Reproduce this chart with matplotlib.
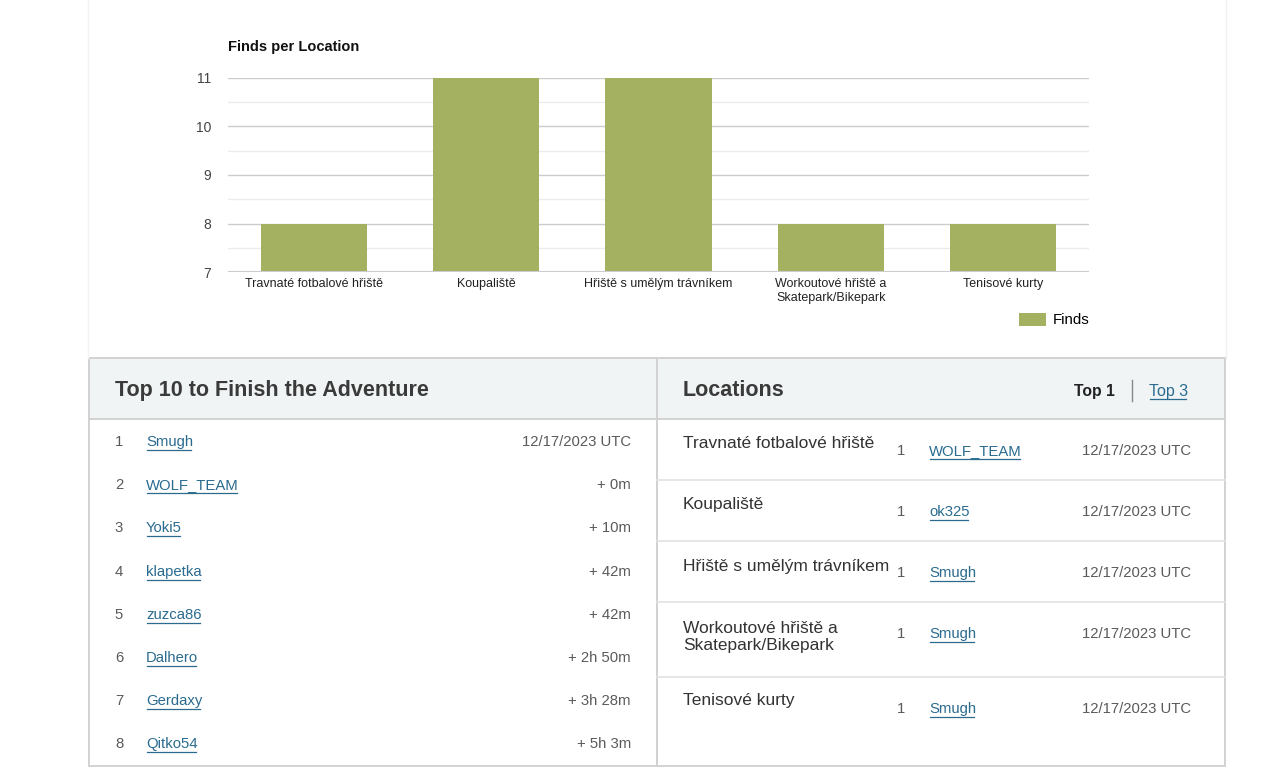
import matplotlib.pyplot as plt
from matplotlib.patches import Rectangle

plt.rcParams['font.family'] = ['Liberation Sans', 'DejaVu Sans']

# chart data
locations = ['Travnaté fotbalové hřiště', 'Koupaliště', 'Hřiště s umělým trávníkem',
             'Workoutové hřiště a\nSkatepark/Bikepark', 'Tenisové kurty']
finds = [8, 11, 11, 8, 8]
y_ticks = [7, 8, 9, 10, 11]

# top 10 table
top_ranks = [1, 2, 3, 4, 5, 6, 7, 8]
top_names = ['Smugh', 'WOLF_TEAM', 'Yoki5', 'klapetka', 'zuzca86', 'Dalhero', 'Gerdaxy', 'Qitko54']
top_times = ['12/17/2023 UTC', '+ 0m', '+ 10m', '+ 42m', '+ 42m', '+ 2h 50m', '+ 3h 28m', '+ 5h 3m']

# locations table
loc_ranks = [1, 1, 1, 1, 1]
loc_first = ['WOLF_TEAM', 'ok325', 'Smugh', 'Smugh', 'Smugh']
loc_dates = ['12/17/2023 UTC'] * 5

bar_color = '#a3b161'
link_color = '#2a6b8f'
text_dark = '#333333'
text_grey = '#5a5a5a'
border = '#d2d2d2'

fig = plt.figure(figsize=(12.8, 7.84), dpi=100)
bg = fig.add_axes([0, 0, 1, 1], zorder=0)
bg.set_xlim(0, 1280)
bg.set_ylim(784, 0)
bg.axis('off')

# faint card borders around chart area
bg.plot([88, 88], [0, 358], color='#f2f2f2', lw=1)
bg.plot([1226, 1226], [0, 358], color='#f2f2f2', lw=1)

# ---- bar chart ----
ax = fig.add_axes([228 / 1280, 1 - 272 / 784, 861 / 1280, 194 / 784], zorder=1)
ax.bar(range(len(finds)), finds, width=0.616, color=bar_color, label='Finds', zorder=2)
ax.set_xlim(-0.5, len(finds) - 0.5)
ax.set_ylim(7, 11)
ax.set_yticks(y_ticks)
ax.set_yticks([7.5, 8.5, 9.5, 10.5], minor=True)
ax.grid(axis='y', which='major', color='#cccccc', lw=1, zorder=0)
ax.grid(axis='y', which='minor', color='#ebebeb', lw=1, zorder=0)
ax.set_xticks(range(len(locations)))
ax.set_xticklabels(locations, fontsize=9, color='#222222', linespacing=1.25)
ax.tick_params(axis='x', length=0, pad=4.5)
ax.tick_params(axis='y', which='both', length=0, pad=12, labelsize=10, labelcolor='#444444')
for s in ax.spines.values():
    s.set_visible(False)
ax.axhline(7, color='#cccccc', lw=1.5, zorder=3)
fig.text(228 / 1280, 1 - 47.5 / 784, 'Finds per Location', fontsize=10.5,
         fontweight='bold', va='center', ha='left', color='#111111')
ax.legend(loc='center right', bbox_to_anchor=(1089 / 1280, 1 - 320 / 784),
          bbox_transform=fig.transFigure, frameon=False, fontsize=10.8,
          handlelength=1.85, handleheight=0.95, handletextpad=0.4, borderpad=0,
          borderaxespad=0)

# ---- tables ----
for x0 in [89, 657]:
    bg.add_patch(Rectangle((x0, 358), 568, 61, facecolor='#f0f4f4', edgecolor='none'))
    bg.add_patch(Rectangle((x0, 358), 568, 408, facecolor='none', edgecolor=border, lw=1.4))
bg.plot([89, 1225], [419, 419], color=border, lw=1.4)

bg.text(115, 390, 'Top 10 to Finish the Adventure', fontsize=15.5, fontweight='bold',
        color='#3a3a3a', va='center')
bg.text(683, 390, 'Locations', fontsize=15.5, fontweight='bold', color='#3a3a3a', va='center')
bg.text(1115, 391, 'Top 1', fontsize=11.3, fontweight='bold', color='#222222', va='center', ha='right')
bg.plot([1132, 1132], [380, 401], color='#888888', lw=1)

links = []
links.append(bg.text(1149, 391, 'Top 3', fontsize=11.5, color=link_color, va='center'))

row_y = [442, 485, 528, 572, 615, 658, 701, 744]
for yy, r, n, t in zip(row_y, top_ranks, top_names, top_times):
    bg.text(119, yy, str(r), fontsize=10.7, color=text_grey, va='center', ha='center')
    links.append(bg.text(146, yy, n, fontsize=10.7, color=link_color, va='center'))
    bg.text(631, yy, t, fontsize=10.7, color=text_grey, va='center', ha='right')

name_y = [443, 505, 566, 637, 701]
val_y = [451, 512, 573, 634, 709]
for ny, vy, nm, r, f, d in zip(name_y, val_y, locations, loc_ranks, loc_first, loc_dates):
    bg.text(683, ny, nm, fontsize=12.5, color=text_dark, va='center', linespacing=1.15)
    bg.text(901, vy, str(r), fontsize=10.7, color=text_grey, va='center', ha='center')
    links.append(bg.text(929, vy, f, fontsize=10.7, color=link_color, va='center'))
    bg.text(1191, vy, d, fontsize=10.7, color=text_grey, va='center', ha='right')

for sy in [480, 541, 602, 677]:
    bg.plot([657, 1225], [sy, sy], color='#e2e2e2', lw=1.2)

# underline links
fig.canvas.draw()
inv = bg.transData.inverted()
for t in links:
    bb = t.get_window_extent()
    (x1, _), (x2, _) = inv.transform([(bb.x0, bb.y0), (bb.x1, bb.y0)])
    yy = t.get_position()[1] + 7.5
    bg.plot([x1 + 0.5, x2 - 2], [yy, yy], color=link_color, lw=0.9)

fig.savefig('out.png', dpi=100, facecolor='white')
